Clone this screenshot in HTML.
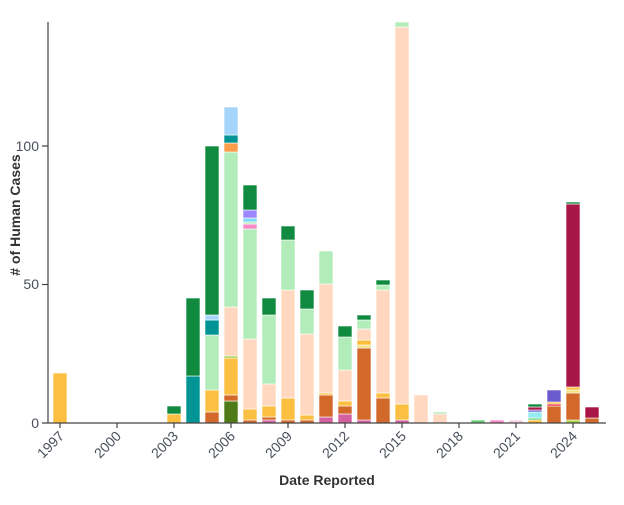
<!DOCTYPE html>
<html><head><meta charset="utf-8"><style>
html,body{margin:0;padding:0;background:#fff;}
svg{display:block;font-family:"Liberation Sans",sans-serif;}
#bars rect{stroke:#fff;stroke-width:0.6;}
</style></head><body>
<svg width="624" height="505" viewBox="0 0 624 505" xmlns="http://www.w3.org/2000/svg">
<g id="bars">
<rect x="53" y="373" width="14" height="50" fill="#fbc041"/>
<rect x="167" y="414" width="14" height="9" fill="#fbc041"/>
<rect x="167" y="406" width="14" height="8" fill="#108a3e"/>
<rect x="186" y="376" width="14" height="47" fill="#009594"/>
<rect x="186" y="298" width="14" height="78" fill="#108a3e"/>
<rect x="205" y="412" width="14" height="11" fill="#d2682a"/>
<rect x="205" y="390" width="14" height="22" fill="#fbc041"/>
<rect x="205" y="335" width="14" height="55" fill="#b2edb9"/>
<rect x="205" y="320" width="14" height="15" fill="#009594"/>
<rect x="205" y="315" width="14" height="5" fill="#a6d5fb"/>
<rect x="205" y="146" width="14" height="169" fill="#108a3e"/>
<rect x="224" y="401" width="14" height="22" fill="#4e7a17"/>
<rect x="224" y="395" width="14" height="6" fill="#d2682a"/>
<rect x="224" y="358" width="14" height="37" fill="#fbc041"/>
<rect x="224" y="356" width="14" height="2" fill="#98c93c"/>
<rect x="224" y="307" width="14" height="49" fill="#ffd8bf"/>
<rect x="224" y="152" width="14" height="155" fill="#b2edb9"/>
<rect x="224" y="143" width="14" height="9" fill="#fb9d4b"/>
<rect x="224" y="135" width="14" height="8" fill="#009594"/>
<rect x="224" y="107" width="14" height="28" fill="#a6d5fb"/>
<rect x="243" y="420" width="14" height="3" fill="#d2682a"/>
<rect x="243" y="409" width="14" height="11" fill="#fbc041"/>
<rect x="243" y="339" width="14" height="70" fill="#ffd8bf"/>
<rect x="243" y="229" width="14" height="110" fill="#b2edb9"/>
<rect x="243" y="224" width="14" height="5" fill="#fa8bca"/>
<rect x="243" y="222" width="14" height="2" fill="#b2edb9"/>
<rect x="243" y="218" width="14" height="4" fill="#7fd8f5"/>
<rect x="243" y="210" width="14" height="8" fill="#9d87ff"/>
<rect x="243" y="185" width="14" height="25" fill="#108a3e"/>
<rect x="262" y="420" width="14" height="3" fill="#d4609f"/>
<rect x="262" y="417" width="14" height="3" fill="#d2682a"/>
<rect x="262" y="406" width="14" height="11" fill="#fbc041"/>
<rect x="262" y="384" width="14" height="22" fill="#ffd8bf"/>
<rect x="262" y="315" width="14" height="69" fill="#b2edb9"/>
<rect x="262" y="298" width="14" height="17" fill="#108a3e"/>
<rect x="281" y="420" width="14" height="3" fill="#d2682a"/>
<rect x="281" y="398" width="14" height="22" fill="#fbc041"/>
<rect x="281" y="290" width="14" height="108" fill="#ffd8bf"/>
<rect x="281" y="240" width="14" height="50" fill="#b2edb9"/>
<rect x="281" y="226" width="14" height="14" fill="#108a3e"/>
<rect x="300" y="420" width="14" height="3" fill="#d2682a"/>
<rect x="300" y="415" width="14" height="5" fill="#fbc041"/>
<rect x="300" y="334" width="14" height="81" fill="#ffd8bf"/>
<rect x="300" y="309" width="14" height="25" fill="#b2edb9"/>
<rect x="300" y="290" width="14" height="19" fill="#108a3e"/>
<rect x="319" y="417" width="14" height="6" fill="#d4609f"/>
<rect x="319" y="395" width="14" height="22" fill="#d2682a"/>
<rect x="319" y="393" width="14" height="2" fill="#fbc041"/>
<rect x="319" y="284" width="14" height="109" fill="#ffd8bf"/>
<rect x="319" y="251" width="14" height="33" fill="#b2edb9"/>
<rect x="338" y="414" width="14" height="9" fill="#d4609f"/>
<rect x="338" y="406" width="14" height="8" fill="#d2682a"/>
<rect x="338" y="401" width="14" height="5" fill="#fbc041"/>
<rect x="338" y="370" width="14" height="31" fill="#ffd8bf"/>
<rect x="338" y="337" width="14" height="33" fill="#b2edb9"/>
<rect x="338" y="326" width="14" height="11" fill="#108a3e"/>
<rect x="357" y="420" width="14" height="3" fill="#d4609f"/>
<rect x="357" y="348" width="14" height="72" fill="#d2682a"/>
<rect x="357" y="345" width="14" height="3" fill="#f2e07a"/>
<rect x="357" y="340" width="14" height="5" fill="#fbc041"/>
<rect x="357" y="329" width="14" height="11" fill="#ffd8bf"/>
<rect x="357" y="320" width="14" height="9" fill="#b2edb9"/>
<rect x="357" y="315" width="14" height="5" fill="#108a3e"/>
<rect x="376" y="398" width="14" height="25" fill="#d2682a"/>
<rect x="376" y="393" width="14" height="5" fill="#fbc041"/>
<rect x="376" y="290" width="14" height="103" fill="#ffd8bf"/>
<rect x="376" y="285" width="14" height="5" fill="#b2edb9"/>
<rect x="376" y="280" width="14" height="5" fill="#108a3e"/>
<rect x="395" y="420" width="14" height="3" fill="#d4609f"/>
<rect x="395" y="404" width="14" height="16" fill="#fbc041"/>
<rect x="395" y="27" width="14" height="377" fill="#ffd8bf"/>
<rect x="395" y="22" width="14" height="5" fill="#b2edb9"/>
<rect x="414" y="395" width="14" height="28" fill="#ffd8bf"/>
<rect x="433" y="414" width="14" height="9" fill="#ffd8bf"/>
<rect x="433" y="412" width="14" height="2" fill="#b2edb9"/>
<rect x="471" y="420" width="14" height="3" fill="#6cd07a"/>
<rect x="490" y="420" width="14" height="3" fill="#fa8bca"/>
<rect x="509" y="420" width="14" height="3" fill="#fcd0e6"/>
<rect x="528" y="420" width="14" height="3" fill="#fbc041"/>
<rect x="528" y="418" width="14" height="2" fill="#6cd07a"/>
<rect x="528" y="412" width="14" height="6" fill="#94ecf0"/>
<rect x="528" y="410" width="14" height="2" fill="#6a5acd"/>
<rect x="528" y="407" width="14" height="3" fill="#a81547"/>
<rect x="528" y="404" width="14" height="3" fill="#108a3e"/>
<rect x="547" y="406" width="14" height="17" fill="#d2682a"/>
<rect x="547" y="404" width="14" height="2" fill="#e8203a"/>
<rect x="547" y="402" width="14" height="2" fill="#fbc041"/>
<rect x="547" y="390" width="14" height="12" fill="#6a5acd"/>
<rect x="566" y="420" width="14" height="3" fill="#a5d63a"/>
<rect x="566" y="393" width="14" height="27" fill="#d2682a"/>
<rect x="566" y="390" width="14" height="3" fill="#f2e07a"/>
<rect x="566" y="387" width="14" height="3" fill="#fbc041"/>
<rect x="566" y="204" width="14" height="183" fill="#a81547"/>
<rect x="566" y="202" width="14" height="2" fill="#108a3e"/>
<rect x="585" y="418" width="14" height="5" fill="#d2682a"/>
<rect x="585" y="407" width="14" height="11" fill="#a81547"/>
</g>
<line x1="48" y1="22" x2="48" y2="423" stroke="#444" stroke-width="1.2"/>
<line x1="42" y1="423" x2="606" y2="423" stroke="#444" stroke-width="1.2"/>
<g stroke="#444" stroke-width="1.2">
<line x1="42" y1="284.5" x2="48" y2="284.5"/>
<line x1="42" y1="146" x2="48" y2="146"/>
<line x1="60" y1="423" x2="60" y2="428"/>
<line x1="117" y1="423" x2="117" y2="428"/>
<line x1="174" y1="423" x2="174" y2="428"/>
<line x1="231" y1="423" x2="231" y2="428"/>
<line x1="288" y1="423" x2="288" y2="428"/>
<line x1="345" y1="423" x2="345" y2="428"/>
<line x1="402" y1="423" x2="402" y2="428"/>
<line x1="459" y1="423" x2="459" y2="428"/>
<line x1="516" y1="423" x2="516" y2="428"/>
<line x1="573" y1="423" x2="573" y2="428"/>
</g>
<g fill="#4a4f5c" font-size="14" text-anchor="end">
<text x="39" y="428">0</text>
<text x="39" y="289">50</text>
<text x="39" y="151">100</text>
<text transform="translate(65,437) rotate(-45)">1997</text>
<text transform="translate(122,437) rotate(-45)">2000</text>
<text transform="translate(179,437) rotate(-45)">2003</text>
<text transform="translate(236,437) rotate(-45)">2006</text>
<text transform="translate(293,437) rotate(-45)">2009</text>
<text transform="translate(350,437) rotate(-45)">2012</text>
<text transform="translate(407,437) rotate(-45)">2015</text>
<text transform="translate(464,437) rotate(-45)">2018</text>
<text transform="translate(521,437) rotate(-45)">2021</text>
<text transform="translate(578,437) rotate(-45)">2024</text>
</g>
<text x="327" y="485" text-anchor="middle" font-size="14" font-weight="bold" fill="#333">Date Reported</text>
<text transform="translate(20,215) rotate(-90)" text-anchor="middle" font-size="14" font-weight="bold" fill="#333"># of Human Cases</text>
</svg>
</body></html>
